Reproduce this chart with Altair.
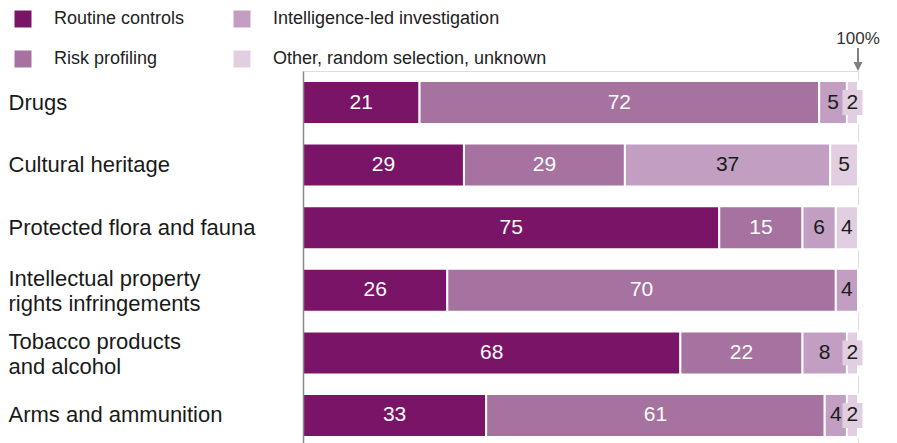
import altair as alt
import pandas as pd

FONT = "Liberation Sans"

categories = [
    "Drugs",
    "Cultural heritage",
    "Protected flora and fauna",
    "Intellectual property|rights infringements",
    "Tobacco products|and alcohol",
    "Arms and ammunition",
]
routine = [21, 29, 75, 26, 68, 33]
risk = [72, 29, 15, 70, 22, 61]
intel = [5, 37, 6, 4, 8, 4]
other = [2, 5, 4, 0, 2, 2]

types = [
    "Routine controls",
    "Risk profiling",
    "Intelligence-led investigation",
    "Other, random selection, unknown",
]
colors = ["#7a1467", "#a6729f", "#c29fc2", "#e1cfe1"]

rows = []
for i, c in enumerate(categories):
    for k, (t, vals) in enumerate(zip(types, [routine, risk, intel, other])):
        if vals[i] > 0:
            rows.append({"category": c, "type": t, "k": k, "value": vals[i]})
df = pd.DataFrame(rows)

xscale = alt.Scale(domain=[0, 100], nice=False, zero=True)

yenc = alt.Y(
    "category:N",
    sort=categories,
    scale=alt.Scale(paddingInner=0.313, paddingOuter=0.16),
    axis=alt.Axis(
        title=None,
        ticks=False,
        tickSize=0,
        labelAlign="left",
        labelPadding=295,
        labelFont=FONT,
        labelFontSize=22,
        labelColor="#1a1a1a",
        labelLimit=0,
        labelLineHeight=25,
        labelOverlap=False,
        labelExpr="split(datum.label, '|')",
        labelOffset={"condition": {"test": "indexof(datum.label, '|') >= 0", "value": -11}, "value": 0},
        domainColor="#8a8a8a",
        domainWidth=1.5,
        zindex=1,
    ),
)

base = alt.Chart(df).transform_stack(
    stack="value",
    groupby=["category"],
    sort=[alt.SortField("k", order="ascending")],
    as_=["x0", "x1"],
).transform_calculate(mid="(datum.x0 + datum.x1) / 2")

bars = base.mark_bar(stroke="white", strokeWidth=2).encode(
    x=alt.X("x0:Q", scale=xscale, axis=None),
    x2="x1:Q",
    y=yenc,
    color=alt.Color(
        "type:N",
        scale=alt.Scale(domain=types, range=colors),
        legend=alt.Legend(
            title=None,
            orient="none",
            legendX=-289,
            legendY=-61,
            columns=2,
            symbolType="square",
            symbolSize=289,
            symbolStrokeWidth=0,
            labelFont=FONT,
            labelFontSize=18,
            labelColor="#222222",
            labelOffset=22,
            columnPadding=48,
            rowPadding=22,
            padding=0,
            labelLimit=0,
        ),
    ),
)

boxes = base.mark_point(
    shape="M-1,-1.25L1,-1.25L1,1.25L-1,1.25Z",
    size=400,
    filled=True,
    opacity=1,
    color=colors[3],
    strokeWidth=0,
).encode(
    x=alt.X("mid:Q", scale=xscale, axis=None),
    y=alt.Y("category:N", sort=categories),
).transform_filter("datum.k == 3 && datum.value <= 2")

labels = base.mark_text(font=FONT, fontSize=21, baseline="middle").encode(
    x=alt.X("mid:Q", scale=xscale, axis=None),
    y=alt.Y("category:N", sort=categories),
    text=alt.Text("value:Q"),
    color=alt.condition("datum.k <= 1", alt.value("white"), alt.value("#1a1a1a")),
)

ann_x = [100]
ann_text = ["100%"]
ann = alt.Chart(pd.DataFrame({"x": ann_x, "label": ann_text}))

ann_label = ann.mark_text(font=FONT, fontSize=17, color="#333333", baseline="alphabetic").encode(
    x=alt.X("x:Q", scale=xscale, axis=None),
    y=alt.value(-27),
    text="label:N",
)
ann_shaft = ann.mark_rule(color="#808080", strokeWidth=2).encode(
    x=alt.X("x:Q", scale=xscale, axis=None),
    y=alt.value(-23),
    y2=alt.value(-9),
)
ann_head = ann.mark_point(
    shape="M-1,-1L1,-1L0,1Z", size=81, filled=True, opacity=1, color="#808080", strokeWidth=0
).encode(
    x=alt.X("x:Q", scale=xscale, axis=None),
    y=alt.value(-4.5),
)

chart = (
    alt.layer(bars, boxes, labels, ann_label, ann_shaft, ann_head)
    .properties(
        width=555,
        height=376,
        padding={"top": 2, "left": 0, "right": 0, "bottom": 0},
    )
    .configure_view(stroke=None)
    .configure(background="white")
)

chart.save("out.html", embed_options={"renderer": "svg", "actions": False})
